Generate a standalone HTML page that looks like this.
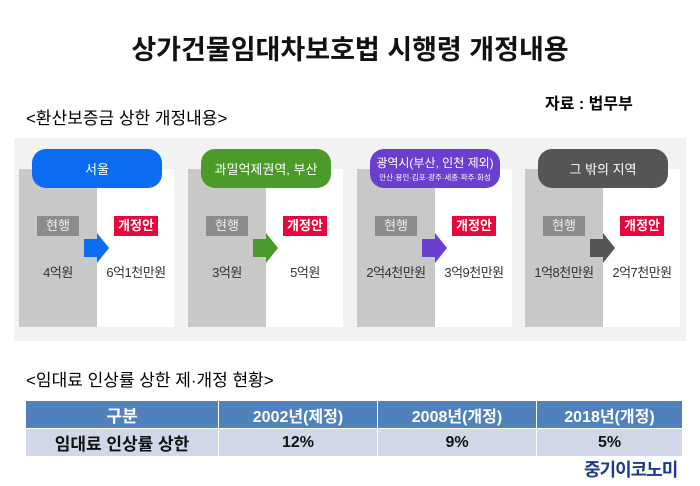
<!DOCTYPE html>
<html><head><meta charset="utf-8"><style>
body{margin:0;width:700px;height:486px;background:#fff;font-family:"Liberation Sans","Noto Sans CJK KR",sans-serif;position:relative;overflow:hidden}
.a{position:absolute}
.t{white-space:nowrap}
.gray{background:#c8c8c8}
.white{background:#fff}
.pill{border-radius:14px;color:#fff;text-align:center;font-size:13px;display:flex;align-items:center;justify-content:center;flex-direction:column}
.b1{background:#8c8c8c;color:#eee;font-size:13px;text-align:center;line-height:20px;width:42px;height:20px}
.b2{background:#e8063a;color:#fff;font-size:13px;font-weight:bold;text-align:center;line-height:20px;width:44px;height:20px}
.v{font-size:13px;color:#333;text-align:center;width:78px;letter-spacing:-0.5px}
td{border:1px solid #fff;text-align:center;font-weight:bold;font-size:16px;padding:0}
</style></head><body>
<div class="a t" style="left:0;width:700px;top:28px;text-align:center;font-size:27px;font-weight:bold;color:#111">상가건물임대차보호법 시행령 개정내용</div>
<div class="a t" style="left:545px;top:90px;font-size:16px;font-weight:bold">자료 : 법무부</div>
<div class="a t" style="left:26px;top:104px;font-size:17px">&lt;환산보증금 상한 개정내용&gt;</div>
<div class="a" style="left:14px;top:138px;width:672px;height:203px;background:#f2f2f2"></div>
<div id="cards"></div>
<div class="a t" style="left:26px;top:366px;font-size:17px">&lt;임대료 인상률 상한 제·개정 현황&gt;</div>
<table class="a" style="left:25px;top:400px;width:658px;border-collapse:collapse">
<tr style="background:#4f81bd;color:#fff;height:28px"><td style="width:192px;font-size:17px">구분</td><td style="width:158px">2002년(제정)</td><td style="width:158px">2008년(개정)</td><td>2018년(개정)</td></tr>
<tr style="background:#d0d8e8;color:#111;height:28px"><td style="font-size:17px">임대료 인상률 상한</td><td>12%</td><td>9%</td><td>5%</td></tr>
</table>
<div class="a t" style="left:584px;top:456px;font-size:18px;font-weight:bold;color:#1f3a8a;letter-spacing:-1px">중기이코노미</div>
<script>
const regions=["서울","과밀억제권역, 부산","광역시(부산, 인천 제외)","그 밖의 지역"];
const currentVals=["4억원","3억원","2억4천만원","1억8천만원"];
const newVals=["6억1천만원","5억원","3억9천만원","2억7천만원"];
const colors=["#0a6cf0","#4c9a2a","#6a3fd0","#555555"];
const lefts=[19,188,357,525];
const c=document.getElementById('cards');
regions.forEach((r,i)=>{
 const x=lefts[i];
 const card=document.createElement('div');
 
 
 let sub=i==2?'<div style="font-size:7.5px;margin-top:1px">안산·용인·김포·광주·세종·파주·화성</div>':'';
 let fs=i==2?'12px':'13px';
 card.innerHTML=`<div class="a gray" style="left:${x}px;top:169px;width:78px;height:158px"></div>
 <div class="a white" style="left:${x+78}px;top:169px;width:77px;height:158px"></div>
 <div class="a pill" style="left:${x+13}px;top:149px;width:130px;height:39px;background:${colors[i]}"><div style="font-size:${fs}">${r}</div>${sub}</div>
 <div class="a b1" style="left:${x+18}px;top:216px">현행</div>
 <div class="a b2" style="left:${x+95}px;top:216px">개정안</div>
 <svg class="a" style="left:${x+65}px;top:233px" width="26" height="30"><polygon points="0,6 13,6 13,0 25,15 13,30 13,24 0,24" fill="${colors[i]}"/></svg>
 <div class="a v t" style="left:${x}px;top:262px">${currentVals[i]}</div>
 <div class="a v t" style="left:${x+78}px;top:262px">${newVals[i]}</div>`;
 c.appendChild(card);
});
</script>
</body></html>
